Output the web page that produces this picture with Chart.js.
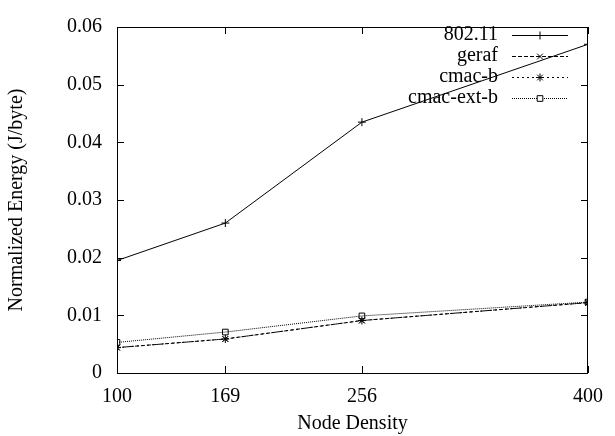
<!DOCTYPE html>
<html>
<head>
<meta charset="utf-8">
<script src="https://cdn.jsdelivr.net/npm/chart.js@4/dist/chart.umd.min.js"></script>
<style>
  html, body { margin: 0; padding: 0; background: #fff; }
  #wrap { width: 615px; height: 436px; }
</style>
</head>
<body>
<div id="wrap"><canvas id="energyChart" width="615" height="436"></canvas></div>
<script>
// Node density values on the x axis
const nodeDensity = [100, 169, 256, 400];
const xTicks = [100, 169, 256, 400];
const yTicks = [0, 0.01, 0.02, 0.03, 0.04, 0.05, 0.06];

// Normalized energy (J/byte)
const energy80211 = [0.0195, 0.0260, 0.0435, 0.0570];
const energyGeraf = [0.0044, 0.0059, 0.0091, 0.0122];
const energyCmacB = [0.0044, 0.0059, 0.0091, 0.0122];
const energyCmacExtB = [0.0053, 0.0071, 0.0099, 0.0123];

const seriesLabels = ['802.11', 'geraf', 'cmac-b', 'cmac-ext-b'];

const FONT = "'Liberation Serif', 'DejaVu Serif', serif";

function toPoints(values) {
    return nodeDensity.map((x, i) => ({ x: x, y: values[i] }));
}

function makeDataset(label, values, dash, pointStyle) {
    return {
        label: label,
        data: toPoints(values),
        borderColor: '#000',
        borderWidth: 1,
        borderDash: dash,
        pointStyle: pointStyle,
        pointRadius: 4,
        pointBorderColor: '#000',
        pointBorderWidth: 1,
        pointBackgroundColor: 'rgba(0,0,0,0)',
        fill: false,
        tension: 0
    };
}

const datasets = [
    makeDataset(seriesLabels[0], energy80211, [], 'cross'),
    makeDataset(seriesLabels[1], energyGeraf, [4, 2], 'crossRot'),
    makeDataset(seriesLabels[2], energyCmacB, [2, 3], 'star'),
    makeDataset(seriesLabels[3], energyCmacExtB, [1, 1], 'rect')
];

// gnuplot-style frame: box around the plot with inward ticks on all sides
const framePlugin = {
    id: 'frame',
    afterDraw(chart) {
        const { ctx, chartArea: a, scales } = chart;
        const len = 7;
        ctx.save();
        ctx.strokeStyle = '#000';
        ctx.lineWidth = 1;
        ctx.strokeRect(a.left + 0.5, a.top + 0.5, a.right - a.left - 1, a.bottom - a.top);
        ctx.beginPath();
        yTicks.forEach(v => {
            const y = Math.round(scales.y.getPixelForValue(v)) + 0.5;
            ctx.moveTo(a.left, y); ctx.lineTo(a.left + len, y);
            ctx.moveTo(a.right, y); ctx.lineTo(a.right - len, y);
        });
        xTicks.forEach(v => {
            const x = Math.round(scales.x.getPixelForValue(v)) + 0.5;
            ctx.moveTo(x, a.bottom); ctx.lineTo(x, a.bottom - len);
            ctx.moveTo(x, a.top); ctx.lineTo(x, a.top + len);
        });
        ctx.stroke();
        ctx.restore();
    }
};

// Legend inside the plot, text on the left of a line sample
const keyPlugin = {
    id: 'key',
    afterDatasetsDraw(chart) {
        const ctx = chart.ctx;
        const textRight = 498, lineStart = 512, lineEnd = 568, top = 35, step = 21;
        ctx.save();
        chart.data.datasets.forEach((ds, i) => {
            const y = top + i * step;
            ctx.font = '20px ' + FONT;
            ctx.fillStyle = '#000';
            ctx.textAlign = 'right';
            ctx.textBaseline = 'middle';
            ctx.fillText(ds.label, textRight, y);
            ctx.beginPath();
            ctx.strokeStyle = '#000';
            ctx.lineWidth = 1;
            ctx.setLineDash(ds.borderDash);
            ctx.moveTo(lineStart, y + 0.5);
            ctx.lineTo(lineEnd, y + 0.5);
            ctx.stroke();
            ctx.setLineDash([]);
            // hollow markers, like the ones on the plot
            ctx.fillStyle = '#fff';
            Chart.helpers.drawPoint(ctx, {
                pointStyle: ds.pointStyle,
                radius: ds.pointRadius,
                borderWidth: 1,
                rotation: 0
            }, (lineStart + lineEnd) / 2, y + 0.5);
        });
        ctx.restore();
    }
};

const ctx = document.getElementById('energyChart').getContext('2d');
new Chart(ctx, {
    type: 'line',
    data: { datasets },
    plugins: [framePlugin, keyPlugin],
    options: {
        responsive: false,
        animation: false,
        layout: { padding: { top: 19, right: 22, left: 0, bottom: 0 } },
        plugins: {
            legend: { display: false },
            tooltip: { enabled: false }
        },
        scales: {
            x: {
                type: 'linear',
                min: 100,
                max: 400,
                afterBuildTicks: scale => { scale.ticks = xTicks.map(v => ({ value: v })); },
                afterFit: scale => { scale.height = 63; },
                grid: { display: false, drawTicks: false },
                border: { display: false },
                ticks: {
                    color: '#000',
                    font: { family: FONT, size: 20 },
                    padding: 12,
                    maxRotation: 0
                },
                title: {
                    display: true,
                    text: 'Node Density',
                    color: '#000',
                    font: { family: FONT, size: 20 },
                    padding: { top: 0, bottom: 0 }
                }
            },
            y: {
                min: 0,
                max: 0.06,
                afterBuildTicks: scale => { scale.ticks = yTicks.map(v => ({ value: v })); },
                afterFit: scale => { scale.width = 117; },
                grid: { display: false, drawTicks: false },
                border: { display: false },
                ticks: {
                    color: '#000',
                    font: { family: FONT, size: 20 },
                    padding: 15,
                    callback: v => (v === 0 ? '0' : v.toFixed(2))
                },
                title: {
                    display: true,
                    text: 'Normalized Energy (J/byte)',
                    color: '#000',
                    font: { family: FONT, size: 20 },
                    padding: { top: 5, bottom: 0 }
                }
            }
        }
    }
});
</script>
</body>
</html>
